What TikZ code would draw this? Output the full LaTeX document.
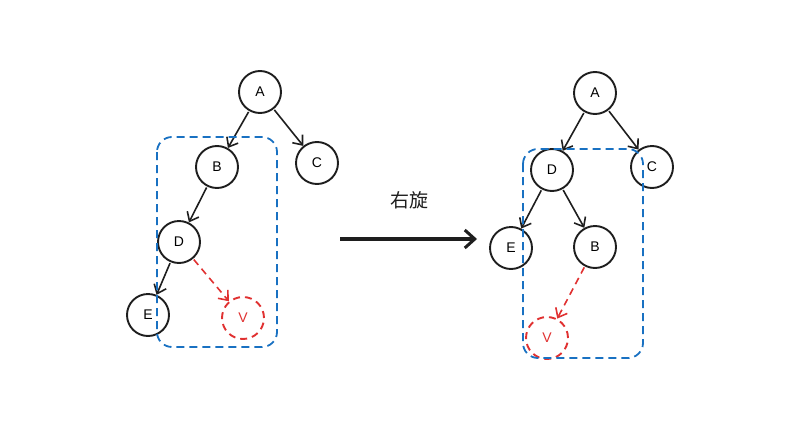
\documentclass[tikz,border=0pt]{standalone}
\usepackage{fontspec}
\setmainfont{Liberation Sans}
\newfontfamily\cjkfont{Noto Sans CJK SC}
\usetikzlibrary{positioning, arrows.meta}
\definecolor{inkblack}{HTML}{1E1E1E}
\definecolor{inkred}{HTML}{E03131}
\definecolor{inkblue}{HTML}{1971C2}

\begin{document}
\begin{tikzpicture}[
    x=1pt, y=-1pt,
    tree-node/.style={circle, draw=inkblack, line width=1.9pt, minimum size=42pt, inner sep=0pt, font=\fontsize{14}{14}\selectfont},
    new-node/.style={tree-node, draw=inkred, text=inkred, dash pattern=on 7pt off 5pt},
    tree-edge/.style={-{Straight Barb[length=8pt, width=13pt, line width=1.6pt]}, line width=1.6pt, draw=inkblack, shorten <=1pt},
    new-edge/.style={tree-edge, draw=inkred, dash pattern=on 7pt off 5pt},
    sub-box/.style={draw=inkblue, dash pattern=on 8pt off 5pt, line width=1.8pt, rounded corners=15pt}
  ]
  \useasboundingbox (0,0) rectangle (798,434);

  % before
  \node[tree-node] (A1) at (260,92) {A};
  \node[tree-node] (B1) at (217,167) {B};
  \node[tree-node] (C1) at (317,163) {C};
  \node[tree-node] (D1) at (179,242) {D};
  \node[tree-node] (E1) at (148,315) {E};
  \node[new-node]  (V1) at (243,318) {V};
  \draw[tree-edge] (A1) -- (B1);
  \draw[tree-edge] (A1) -- (C1);
  \draw[tree-edge] (B1) -- (D1);
  \draw[tree-edge] (D1) -- (E1);
  \draw[new-edge]  (D1) -- (V1);
  \draw[sub-box] (157,137) rectangle (277,347);

  % rotate
  \coordinate (rot-start) at (340,239);
  \coordinate (rot-end) at (477,239);
  \draw[-{Straight Barb[length=10pt, width=18pt, line width=3pt]}, line width=3.2pt, draw=inkblack] (rot-start) -- (rot-end);
  \node[font=\cjkfont\fontsize{19}{19}\selectfont, text=inkblack] (rot-label) at (409,200) {右旋};

  % after
  \node[tree-node] (A2) at (595,93) {A};
  \node[tree-node] (D2) at (552,170) {D};
  \node[tree-node] (C2) at (652,167) {C};
  \node[tree-node] (E2) at (511,248) {E};
  \node[tree-node] (B2) at (595,247) {B};
  \node[new-node]  (V2) at (547,338) {V};
  \draw[tree-edge] (A2) -- (D2);
  \draw[tree-edge] (A2) -- (C2);
  \draw[tree-edge] (D2) -- (E2);
  \draw[tree-edge] (D2) -- (B2);
  \draw[new-edge]  (B2) -- (V2);
  \draw[sub-box] (523,149) rectangle (643,358);

\end{tikzpicture}
\end{document}
